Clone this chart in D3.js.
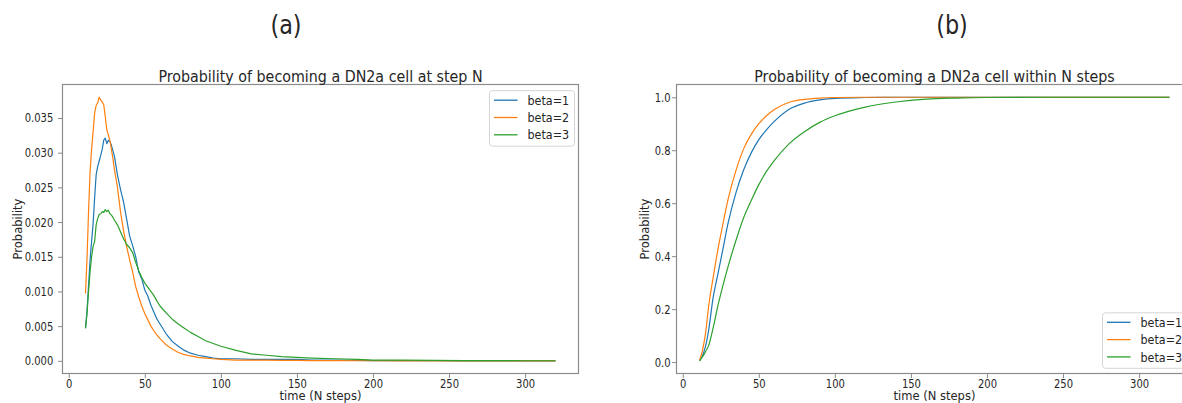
<!DOCTYPE html>
<html>
<head>
<meta charset="utf-8">
<script src="https://cdn.jsdelivr.net/npm/d3@7"></script>
<style>
  body { margin: 0; background: #fff; }
  svg { display: block; font-family: "DejaVu Sans", sans-serif; }
</style>
</head>
<body>
<svg id="fig" width="1182" height="403"></svg>
<script>
// ---- data ----
var seriesNames = ["beta=1", "beta=2", "beta=3"];
var seriesColors = ["#1f77b4", "#ff7f0e", "#2ca02c"];

// (a) probability at step N
var stepsA = [11,12,13,14,15,16,17,18,19,20,21,22,23,24,25,26,27,28,29,30,
  32,34,36,38,40,42,44,46,48,50,52,54,56,58,60,
  64,68,72,76,80,85,90,95,100,
  110,120,130,140,150,160,175,190,200,220,240,260,280,300,320];
var stepA_beta1 = [0.0047,0.0072,0.0108,0.0145,0.0172,0.0197,0.0235,0.0268,0.0280,0.0288,0.0296,0.0305,0.0318,0.0321,0.0313,0.0318,0.0316,0.0311,0.0303,0.0295,
  0.0268,0.0247,0.0229,0.0205,0.0180,0.0166,0.0150,0.0128,0.0118,0.0102,0.0093,0.0080,0.0070,0.0060,0.0053,
  0.0039,0.0028,0.0021,0.0015,0.0011,0.0008,0.0006,0.0004,0.0003,
  0.0003,0.0002,0.0002,0.0002,0.0002,0.0001,0.0001,0.00005,0.00004,0.00002,0.00001,0,0,0,0];
var stepA_beta2 = [0.0097,0.0148,0.0215,0.0272,0.0305,0.0330,0.0357,0.0368,0.0372,0.0380,0.0376,0.0373,0.0369,0.0352,0.0333,0.0326,0.0318,0.0305,0.0292,0.0276,
  0.0250,0.0215,0.0188,0.0165,0.0146,0.0128,0.0107,0.0092,0.0079,0.0068,0.0059,0.0050,0.0043,0.0037,0.0032,
  0.0023,0.0017,0.0012,0.0009,0.0007,0.0005,0.0004,0.0003,0.0002,
  0.0001,0.0001,0.0001,0.00005,0.00005,0.00003,0.00002,0.00001,0.00001,0,0,0,0,0,0];
var stepA_beta3 = [0.0047,0.0068,0.0100,0.0128,0.0150,0.0165,0.0172,0.0196,0.0205,0.0211,0.0212,0.0215,0.0214,0.0218,0.0215,0.0217,0.0212,0.0210,0.0207,0.0203,
  0.0196,0.0186,0.0176,0.0168,0.0163,0.0156,0.0142,0.0130,0.0120,0.0112,0.0106,0.0100,0.0094,0.0086,0.0079,
  0.0069,0.0060,0.0053,0.0047,0.0041,0.0035,0.0029,0.0025,0.0021,
  0.0015,0.0010,0.0008,0.0006,0.0005,0.0004,0.0003,0.0002,0.0001,0.0001,0.00005,0.00003,0.00002,0.00001,0.00001];

// (b) probability within N steps
var stepsB = [11,13,15,17,20,23,26,30,35,40,45,50,55,60,70,80,90,100,120,140,160,180,200,250,300,320];
var cumB_beta1 = [0.005,0.025,0.06,0.12,0.245,0.33,0.415,0.53,0.64,0.725,0.79,0.84,0.877,0.908,0.955,0.978,0.99,0.996,0.999,1,1,1,1,1,1,1];
var cumB_beta2 = [0.005,0.045,0.11,0.21,0.32,0.422,0.51,0.62,0.724,0.805,0.86,0.90,0.93,0.953,0.981,0.992,0.997,0.999,1,1,1,1,1,1,1,1];
var cumB_beta3 = [0.005,0.02,0.04,0.062,0.13,0.21,0.28,0.365,0.46,0.545,0.61,0.67,0.72,0.76,0.825,0.87,0.905,0.93,0.963,0.982,0.993,0.997,0.999,1,1,1];

var xTicks = [0, 50, 100, 150, 200, 250, 300];
var yTicksA = [0, 0.005, 0.010, 0.015, 0.020, 0.025, 0.030, 0.035];
var yTicksB = [0, 0.2, 0.4, 0.6, 0.8, 1.0];

// ---- drawing ----
var svg = d3.select("#fig");
var textColor = "#262626", spineColor = "#8c8c8c";
var tickS = 0.8;   // the source figure is squeezed sideways a bit

function label(x, y, str, size, sx, rot) {
  return svg.append("text")
    .attr("transform", "translate(" + x + "," + y + ") scale(" + sx + ",1)" + (rot ? " rotate(" + rot + ")" : ""))
    .attr("text-anchor", "middle")
    .attr("font-size", size)
    .attr("fill", textColor)
    .text(str);
}

function panel(opt) {
  var x = d3.scaleLinear().domain([-4.45, 335.45]).range([opt.left, opt.right]),
      y = d3.scaleLinear().domain(opt.yDomain).range([374, 84]);

  var g = svg.append("g");

  g.append("g")
      .attr("transform", "translate(0,374)")
      .call(d3.axisBottom(x).tickValues(xTicks).tickSize(4).tickPadding(1.5).tickSizeOuter(0))
      .call(function(a) {
        a.select(".domain").remove();
        a.selectAll("line").attr("stroke", spineColor);
        a.selectAll("text").attr("font-size", 12.5).attr("fill", textColor)
          .attr("font-family", "DejaVu Sans").attr("transform", "scale(" + tickS + ",1)");
      });

  g.append("g")
      .attr("transform", "translate(" + opt.left + ",0)")
      .call(d3.axisLeft(y).tickValues(opt.yTicks).tickFormat(d3.format(opt.fmt)).tickSize(4).tickPadding(4).tickSizeOuter(0))
      .call(function(a) {
        a.select(".domain").remove();
        a.selectAll("line").attr("stroke", spineColor);
        a.selectAll("text").attr("font-size", 12.5).attr("fill", textColor)
          .attr("font-family", "DejaVu Sans")
          .attr("x", -opt.tickGap / tickS).attr("transform", "scale(" + tickS + ",1)");
      });

  var clipId = "clip" + opt.left;
  svg.append("clipPath").attr("id", clipId).append("rect")
      .attr("x", opt.left).attr("y", 84).attr("width", opt.right - opt.left).attr("height", 290);

  var line = d3.line()
      .x(function(d) { return x(d[0]); })
      .y(function(d) { return y(d[1]); })
      .curve(opt.curve);

  opt.series.forEach(function(vals, i) {
    g.append("path")
      .datum(opt.steps.map(function(s, k) { return [s, vals[k]]; }))
      .attr("clip-path", "url(#" + clipId + ")")
      .attr("fill", "none")
      .attr("stroke", seriesColors[i])
      .attr("stroke-width", 1.2)
      .attr("stroke-linejoin", "round")
      .attr("d", line);
  });

  g.append("rect")
      .attr("x", opt.left + 0.5).attr("y", 84.5)
      .attr("width", opt.right - opt.left - 1).attr("height", 289)
      .attr("fill", "none").attr("stroke", spineColor).attr("stroke-width", 1.2);

  // legend
  var lg = g.append("g").attr("transform", "translate(" + opt.legend[0] + "," + opt.legend[1] + ")");
  lg.append("rect")
      .attr("x", 0).attr("y", 0).attr("width", 85).attr("height", 55.5)
      .attr("rx", 3).attr("fill", "#fff").attr("fill-opacity", 0.8)
      .attr("stroke", "#d6d6d6");
  seriesNames.forEach(function(n, i) {
    var ry = 9.5 + i * 17.3;
    lg.append("line")
      .attr("x1", 4.5).attr("x2", 28).attr("y1", ry).attr("y2", ry)
      .attr("stroke", seriesColors[i]).attr("stroke-width", 1.3);
    lg.append("text")
      .attr("transform", "translate(38," + (ry + 4.6) + ") scale(0.86,1)")
      .attr("font-size", 13).attr("fill", textColor).text(n);
  });

  label((opt.left + opt.right) / 2, 81.5, opt.title, 16.5, 0.865);
  label((opt.left + opt.right) / 2, 399.8, "time (N steps)", 12, 0.96);
  label(opt.yLabelX, 229, "Probability", 11.5, 1, -90);
  label(opt.tagX, 34, opt.tag, 26, 0.86);
}

panel({
  left: 62, right: 579, tickGap: 8.7, yLabelX: 21.5,
  yDomain: [-0.0019, 0.0399], yTicks: yTicksA, fmt: ".3f",
  steps: stepsA, series: [stepA_beta1, stepA_beta2, stepA_beta3],
  curve: d3.curveLinear,
  legend: [489.5, 90.7],
  title: "Probability of becoming a DN2a cell at step N",
  tag: "(a)", tagX: 286
});

panel({
  left: 676, right: 1193, tickGap: 5.5, yLabelX: 648.5,
  yDomain: [-0.045, 1.05], yTicks: yTicksB, fmt: ".1f",
  steps: stepsB, series: [cumB_beta1, cumB_beta2, cumB_beta3],
  curve: d3.curveMonotoneX,
  legend: [1102.5, 312.8],
  title: "Probability of becoming a DN2a cell within N steps",
  tag: "(b)", tagX: 952
});
</script>
</body>
</html>
